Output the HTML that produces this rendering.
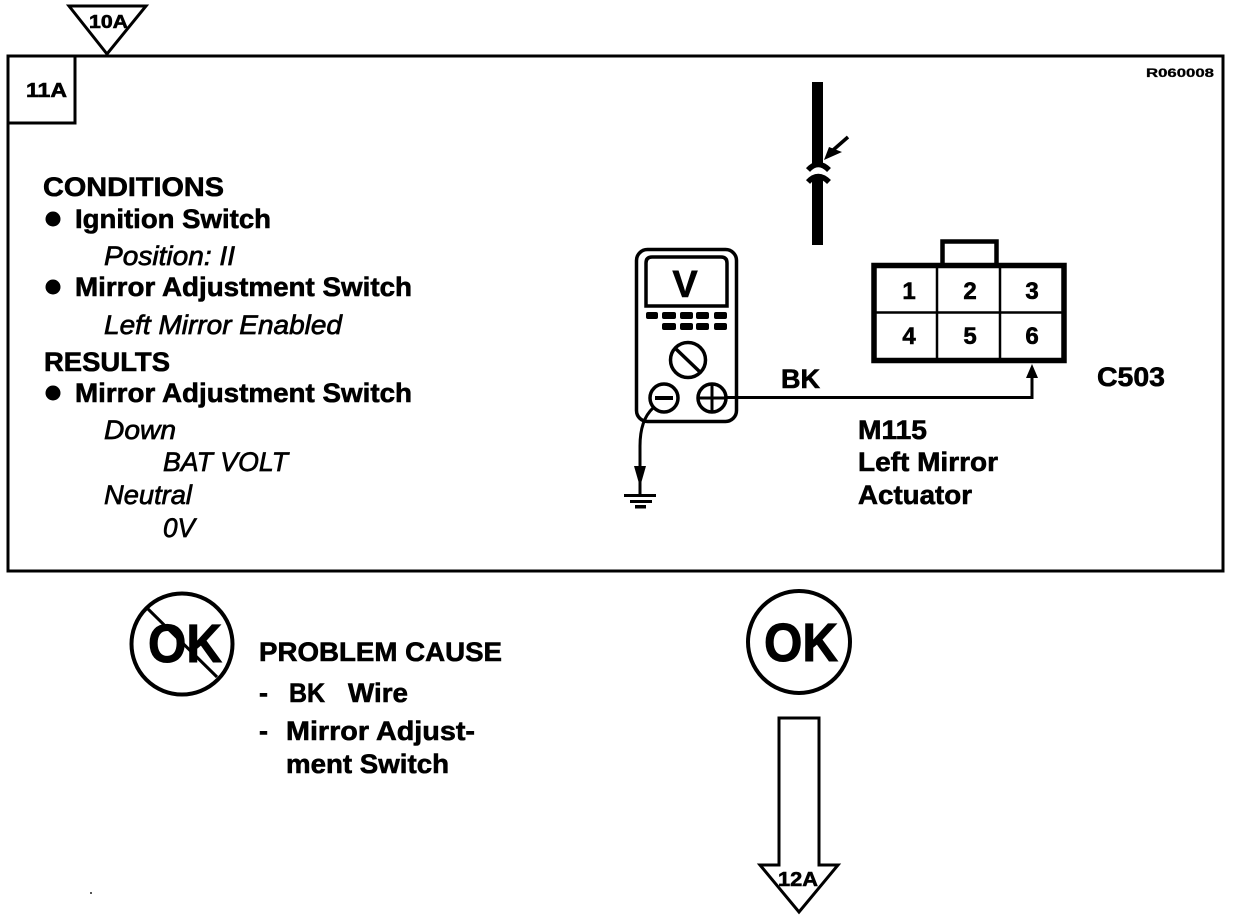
<!DOCTYPE html>
<html>
<head>
<meta charset="utf-8">
<style>
html,body{margin:0;padding:0;background:#fff}
svg{display:block}
text{font-family:"Liberation Sans",sans-serif;font-weight:bold;fill:#000;stroke:#000;stroke-width:.6px}
.i{font-style:italic;font-weight:normal;stroke:#000;stroke-width:.7px}
.s{stroke-width:.3px}
</style>
</head>
<body>
<svg width="1248" height="922" viewBox="0 0 1248 922" xmlns="http://www.w3.org/2000/svg">
<rect width="1248" height="922" fill="#fff"/>

<!-- main frame -->
<rect x="8" y="56" width="1215" height="515" fill="none" stroke="#000" stroke-width="3"/>
<rect x="8" y="56" width="67" height="67" fill="none" stroke="#000" stroke-width="3"/>
<text x="26" y="97" font-size="20" textLength="41" lengthAdjust="spacingAndGlyphs">11A</text>

<!-- top triangle -->
<polygon points="69,6 146,6 107,54" fill="#fff" stroke="#000" stroke-width="3"/>
<text x="89" y="28" font-size="18" textLength="39" lengthAdjust="spacingAndGlyphs">10A</text>

<text class="s" x="1146" y="77" font-size="12" font-weight="normal" textLength="68" lengthAdjust="spacingAndGlyphs">R060008</text>

<!-- left text -->
<text x="43" y="196" font-size="27" textLength="181" lengthAdjust="spacingAndGlyphs">CONDITIONS</text>
<circle cx="53" cy="219" r="7.5"/>
<text x="75" y="228" font-size="27" textLength="196" lengthAdjust="spacingAndGlyphs">Ignition Switch</text>
<text class="i" x="104" y="265" font-size="27" textLength="131" lengthAdjust="spacingAndGlyphs">Position: II</text>
<circle cx="53" cy="287" r="7.5"/>
<text x="75" y="296" font-size="27" textLength="337" lengthAdjust="spacingAndGlyphs">Mirror Adjustment Switch</text>
<text class="i" x="104" y="334" font-size="27" textLength="238" lengthAdjust="spacingAndGlyphs">Left Mirror Enabled</text>
<text x="44" y="371" font-size="27" textLength="126" lengthAdjust="spacingAndGlyphs">RESULTS</text>
<circle cx="53" cy="393" r="7.5"/>
<text x="75" y="402" font-size="27" textLength="337" lengthAdjust="spacingAndGlyphs">Mirror Adjustment Switch</text>
<text class="i" x="104" y="439" font-size="27" textLength="72" lengthAdjust="spacingAndGlyphs">Down</text>
<text class="i" x="163" y="471" font-size="27" textLength="125" lengthAdjust="spacingAndGlyphs">BAT VOLT</text>
<text class="i" x="104" y="504" font-size="27" textLength="88" lengthAdjust="spacingAndGlyphs">Neutral</text>
<text class="i" x="163" y="537" font-size="27" textLength="32" lengthAdjust="spacingAndGlyphs">0V</text>

<!-- splice symbol -->
<rect x="812" y="82" width="11" height="82" fill="#000"/>
<rect x="812" y="178" width="11" height="67" fill="#000"/>
<path d="M808,170 Q818,159 829,170" fill="none" stroke="#000" stroke-width="5.5"/>
<path d="M808,182 Q818,171 829,182" fill="none" stroke="#000" stroke-width="5.5"/>
<line x1="848" y1="137" x2="832" y2="151" stroke="#000" stroke-width="3.5"/>
<polygon points="824,160 829,147 842,152" fill="#000"/>

<!-- meter -->
<rect x="636.5" y="249.5" width="100" height="172" rx="11" fill="#fff" stroke="#000" stroke-width="3.5"/>
<path d="M646,306 V263 Q646,257 652,257 H721 Q727,257 727,263 V306 Z" fill="#fff" stroke="#000" stroke-width="3.5"/>
<text x="685" y="297" font-size="38" text-anchor="middle">V</text>
<g fill="#000">
<rect x="646" y="312" width="12" height="7" rx="2"/>
<rect x="662" y="312" width="14" height="7" rx="2"/>
<rect x="680" y="312" width="13" height="7" rx="2"/>
<rect x="696" y="312" width="13" height="7" rx="2"/>
<rect x="714" y="312" width="13" height="7" rx="2"/>
<rect x="662" y="323" width="14" height="7" rx="2"/>
<rect x="680" y="323" width="13" height="7" rx="2"/>
<rect x="696" y="323" width="13" height="7" rx="2"/>
<rect x="714" y="323" width="13" height="7" rx="2"/>
</g>
<circle cx="688" cy="360" r="17.5" fill="#fff" stroke="#000" stroke-width="3.5"/>
<line x1="676" y1="349" x2="700" y2="372" stroke="#000" stroke-width="3.5"/>
<circle cx="664" cy="398" r="14" fill="#fff" stroke="#000" stroke-width="3.5"/>
<line x1="655" y1="398" x2="673" y2="398" stroke="#000" stroke-width="4"/>
<circle cx="712" cy="398" r="14" fill="#fff" stroke="#000" stroke-width="3.5"/>
<line x1="698" y1="398" x2="726" y2="398" stroke="#000" stroke-width="3"/>
<line x1="712" y1="384" x2="712" y2="412" stroke="#000" stroke-width="3"/>

<!-- wires -->
<path d="M726,397.5 H1032 V372" fill="none" stroke="#000" stroke-width="3"/>
<polygon points="1032,364 1038,378 1026,378" fill="#000"/>
<path d="M653,408 Q640,420 640,446 V495" fill="none" stroke="#000" stroke-width="3"/>
<polygon points="634,466 646,466 640,487" fill="#000"/>
<rect x="624" y="494" width="32" height="3" fill="#000"/>
<rect x="630" y="500" width="22" height="3" fill="#000"/>
<rect x="635" y="505" width="11" height="3.5" fill="#000"/>

<!-- connector -->
<path d="M942.5,264 V241.5 H996.5 V264" fill="none" stroke="#000" stroke-width="4.5"/>
<rect x="874" y="265.5" width="190" height="95" fill="#fff" stroke="#000" stroke-width="5.5"/>
<line x1="937" y1="265" x2="937" y2="360" stroke="#000" stroke-width="2.5"/>
<line x1="1000" y1="265" x2="1000" y2="360" stroke="#000" stroke-width="2.5"/>
<line x1="874" y1="312.5" x2="1064" y2="312.5" stroke="#000" stroke-width="2.5"/>
<g font-size="24" text-anchor="middle">
<text x="909" y="299">1</text>
<text x="970" y="299">2</text>
<text x="1032" y="299">3</text>
<text x="909" y="344">4</text>
<text x="970" y="344">5</text>
<text x="1032" y="344">6</text>
</g>

<text x="781" y="388" font-size="27" textLength="39" lengthAdjust="spacingAndGlyphs">BK</text>
<text x="1097" y="386" font-size="27" textLength="68" lengthAdjust="spacingAndGlyphs">C503</text>
<text x="858" y="439" font-size="27" textLength="69" lengthAdjust="spacingAndGlyphs">M115</text>
<text x="858" y="471" font-size="27" textLength="140" lengthAdjust="spacingAndGlyphs">Left Mirror</text>
<text x="858" y="504" font-size="27" textLength="114" lengthAdjust="spacingAndGlyphs">Actuator</text>

<!-- not OK -->
<circle cx="182" cy="644" r="50.5" fill="#fff" stroke="#000" stroke-width="4"/>
<text x="148" y="662" font-size="54" textLength="74" lengthAdjust="spacingAndGlyphs" style="stroke-width:1px">OK</text>
<line x1="147" y1="608" x2="217" y2="677" stroke="#000" stroke-width="3"/>

<text x="259" y="661" font-size="27" textLength="243" lengthAdjust="spacingAndGlyphs">PROBLEM CAUSE</text>
<text x="259" y="702" font-size="27">-</text>
<text x="289" y="702" font-size="27" textLength="36" lengthAdjust="spacingAndGlyphs">BK</text>
<text x="348" y="702" font-size="27" textLength="60" lengthAdjust="spacingAndGlyphs">Wire</text>
<text x="259" y="740" font-size="27">-</text>
<text x="286" y="740" font-size="27" textLength="189" lengthAdjust="spacingAndGlyphs">Mirror Adjust-</text>
<text x="286" y="773" font-size="27" textLength="163" lengthAdjust="spacingAndGlyphs">ment Switch</text>

<!-- OK -->
<circle cx="799" cy="642" r="51" fill="#fff" stroke="#000" stroke-width="4"/>
<text x="764" y="661" font-size="54" textLength="74" lengthAdjust="spacingAndGlyphs" style="stroke-width:1px">OK</text>

<!-- down arrow -->
<polygon points="779,718 819,718 819,865 838,865 799,912 760,865 779,865" fill="#fff" stroke="#000" stroke-width="3"/>
<text x="778" y="886" font-size="20" textLength="40" lengthAdjust="spacingAndGlyphs">12A</text>

<rect x="90" y="892" width="2" height="2" fill="#555"/>
</svg>
</body>
</html>
